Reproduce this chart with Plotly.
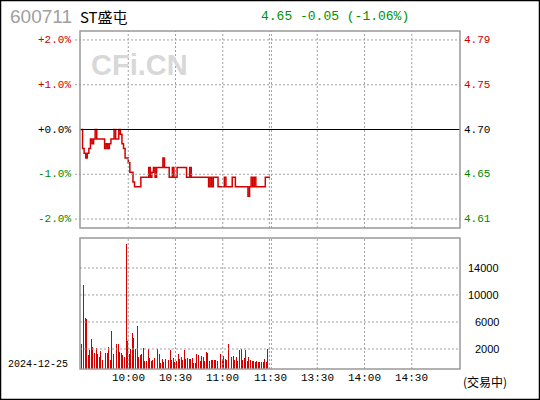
import plotly.graph_objects as go

# ---------------- data ----------------
stock_code = "600711"
stock_name = "ST盛屯"
quote_text = "4.65 -0.05 (-1.06%)"
trade_date = "2024-12-25"
status_text = "(交易中)"

prev_close = 4.70

# one price per minute from 9:30 (index 0) to 11:30 (index 120)
prices = [
    4.70, 4.68, 4.675, 4.67, 4.675, 4.68, 4.69, 4.685, 4.69, 4.70,
    4.69, 4.69, 4.69, 4.69, 4.69, 4.68, 4.685, 4.68, 4.685, 4.69,
    4.69, 4.70, 4.69, 4.69, 4.70, 4.695, 4.685, 4.68, 4.67, 4.67,
    4.665, 4.655, 4.655, 4.645, 4.64, 4.64, 4.64, 4.64, 4.65, 4.65,
    4.65, 4.65, 4.65, 4.66, 4.65, 4.655, 4.66, 4.65, 4.66, 4.66,
    4.66, 4.66, 4.67, 4.66, 4.66, 4.66, 4.65, 4.65, 4.66, 4.65,
    4.65, 4.66, 4.66, 4.66, 4.66, 4.66, 4.66, 4.65, 4.65, 4.66,
    4.65, 4.65, 4.65, 4.65, 4.65, 4.65, 4.65, 4.65, 4.65, 4.65,
    4.65, 4.64, 4.65, 4.64, 4.65, 4.65, 4.65, 4.64, 4.64, 4.64,
    4.64, 4.65, 4.64, 4.64, 4.64, 4.64, 4.65, 4.65, 4.64, 4.64,
    4.64, 4.64, 4.64, 4.64, 4.64, 4.64, 4.63, 4.64, 4.65, 4.64,
    4.65, 4.64, 4.64, 4.64, 4.64, 4.64, 4.64, 4.65, 4.65, 4.65,
    4.65,
]
price_minutes = list(range(len(prices)))

# one volume bar per minute (minute 1 .. 119)
volumes = [
    3750, 12490, 7600, 7450, 2120, 2860, 4490, 3260, 2370, 3110,
    2270, 1820, 2710, 1380, 1380, 2370, 2370, 3310, 1380, 5670,
    2270, 1970, 3750, 3750, 2470, 2370, 2120, 1820, 18560, 4190,
    2270, 2960, 5400, 4600, 2960, 6410, 1720, 2010, 2270, 3110,
    1130, 1230, 2960, 1680, 1130, 1380, 1630, 1380, 2960, 2270,
    890, 1530, 1030, 1480, 1380, 1380, 2860, 1380, 1630, 980,
    1130, 2270, 1480, 1780, 1380, 2860, 1530, 1630, 1480, 1480,
    1630, 890, 890, 2270, 2120, 1130, 1930, 1780, 1130, 2520,
    2370, 1230, 1380, 1380, 1380, 1330, 1130, 1480, 2270, 1480,
    1930, 1480, 1330, 3750, 2860, 1780, 1930, 1330, 1780, 1230,
    2860, 2960, 1380, 1630, 2860, 1130, 1780, 1380, 1230, 1130,
    1030, 1130, 980, 980, 980, 980, 1480, 980, 2960,
]
vol_minutes = [k + 0.6 for k in range(len(volumes))]

pct_levels = [2, 1, 0, -1, -2]
pct_labels = ["+2.0%", "+1.0%", "+0.0%", "-1.0%", "-2.0%"]
price_labels = ["4.79", "4.75", "4.70", "4.65", "4.61"]
level_colors = ["#cc0000", "#cc0000", "#000000", "#008800", "#008800"]

time_ticks = [30, 60, 90, 120, 150, 180, 210]
time_labels = ["10:00", "10:30", "11:00", "11:30", "13:30", "14:00", "14:30"]
grid_minutes = [30, 60, 90, 119.6, 120.9, 150, 180, 210]

vol_grid = [2963, 6963, 10963, 14963]
vol_labels = ["2000", "6000", "10000", "14000"]

# ---------------- figure ----------------
RED = "#d40000"
GRID = "#a0a0a0"
BORDER = "#999999"
MONO = "Liberation Mono, DejaVu Sans Mono, monospace"

fig = go.Figure()
fig.add_trace(go.Scatter(
    x=price_minutes, y=prices, mode="lines",
    line=dict(color=RED, width=1.5, shape="hv"),
    xaxis="x", yaxis="y", hoverinfo="skip", showlegend=False))
fig.add_trace(go.Bar(
    x=vol_minutes, y=volumes, width=0.6,
    marker=dict(color=RED, line=dict(width=0)),
    xaxis="x2", yaxis="y2", hoverinfo="skip", showlegend=False))

W, H = 540, 400
ML, MR, MT, MB = 80, 80, 31, 31
PW, PH = W - ML - MR, H - MT - MB
up_lo = (H - MB - 228) / PH
low_hi = (H - MB - 238) / PH

pmin = prev_close * (1 - 0.022)
pmax = prev_close * (1 + 0.022)
xr = [-0.63, 240.6]

fig.update_layout(
    width=W, height=H,
    margin=dict(l=ML, r=MR, t=MT, b=MB),
    paper_bgcolor="white", plot_bgcolor="white",
    showlegend=False, bargap=0,
    xaxis=dict(domain=[0, 1], range=xr, anchor="y", showgrid=False,
               zeroline=False, showticklabels=False, ticks=""),
    yaxis=dict(domain=[up_lo, 1], range=[pmin, pmax], showgrid=False,
               zeroline=False, showticklabels=False, ticks=""),
    xaxis2=dict(domain=[0, 1], range=xr, anchor="y2", showgrid=False,
                zeroline=False, showticklabels=False, ticks=""),
    yaxis2=dict(domain=[0, low_hi], range=[0, 19400], anchor="x2",
                showgrid=False, zeroline=False, showticklabels=False, ticks=""),
)

shapes = []
dot = "2px,2px"
# horizontal grid in price panel
for p in pct_levels:
    yv = prev_close * (1 + p / 100)
    if p == 0:
        shapes.append(dict(type="line", xref="paper", yref="y", x0=0, x1=1,
                           y0=yv, y1=yv, line=dict(color="black", width=1.2)))
    else:
        shapes.append(dict(type="line", xref="paper", yref="y", x0=-5 / PW, x1=1,
                           y0=yv, y1=yv, line=dict(color=GRID, width=1, dash=dot)))
# vertical grid in both panels
for gm in grid_minutes:
    shapes.append(dict(type="line", xref="x", yref="y domain", x0=gm, x1=gm,
                       y0=0, y1=1, line=dict(color=GRID, width=1, dash=dot)))
    shapes.append(dict(type="line", xref="x2", yref="y2 domain", x0=gm, x1=gm,
                       y0=0, y1=1, line=dict(color=GRID, width=1, dash=dot)))
# horizontal grid in volume panel
for v in vol_grid:
    shapes.append(dict(type="line", xref="paper", yref="y2", x0=0, x1=1,
                       y0=v, y1=v, line=dict(color=GRID, width=1, dash=dot)))
# panel borders
shapes.append(dict(type="rect", xref="x domain", yref="y domain", x0=0, x1=1,
                   y0=0, y1=1, line=dict(color=BORDER, width=1.5)))
shapes.append(dict(type="rect", xref="x2 domain", yref="y2 domain", x0=0, x1=1,
                   y0=0, y1=1, line=dict(color=BORDER, width=1.5)))
# outer black frame
shapes.append(dict(type="rect", xref="paper", yref="paper",
                   x0=(0 - ML) / PW, x1=(W - ML) / PW,
                   y0=(0 - MB) / PH, y1=(H - MB) / PH,
                   line=dict(color="black", width=2.5)))
fig.update_layout(shapes=shapes)

ann = []
def px_x(px):
    return (px - ML) / PW
def px_y(py):
    return (H - MB - py) / PH

# header
ann.append(dict(text=stock_code, xref="paper", yref="paper", x=px_x(8), y=px_y(16),
                xanchor="left", yanchor="middle", showarrow=False,
                font=dict(family="Liberation Sans, Arial", size=19, color="#a0a0a0")))
ann.append(dict(text=stock_name, xref="paper", yref="paper", x=px_x(78), y=px_y(16),
                xanchor="left", yanchor="middle", showarrow=False,
                font=dict(family="Noto Sans CJK SC", size=15, color="black")))
ann.append(dict(text=quote_text, xref="paper", yref="paper", x=px_x(259), y=px_y(16),
                xanchor="left", yanchor="middle", showarrow=False,
                font=dict(family=MONO, size=13, color="#009000")))
# watermark
ann.append(dict(text="<b>CFi.CN</b>", xref="paper", yref="paper", x=px_x(139), y=px_y(65),
                xanchor="center", yanchor="middle", showarrow=False,
                font=dict(family="Liberation Sans, Arial", size=29, color="#d8d8d8")))
# price axis labels
for p, lt, rt, c in zip(pct_levels, pct_labels, price_labels, level_colors):
    yv = prev_close * (1 + p / 100)
    ann.append(dict(text=lt, xref="paper", yref="y", x=px_x(73), y=yv,
                    xanchor="right", yanchor="middle", showarrow=False,
                    font=dict(family=MONO, size=11, color=c)))
    ann.append(dict(text=rt, xref="paper", yref="y", x=px_x(462), y=yv,
                    xanchor="left", yanchor="middle", showarrow=False,
                    font=dict(family=MONO, size=11, color=c)))
# volume axis labels
for v, t in zip(vol_grid, vol_labels):
    ann.append(dict(text=t, xref="paper", yref="y2", x=px_x(501), y=v,
                    xanchor="right", yanchor="middle", showarrow=False,
                    font=dict(family="Liberation Sans, Arial", size=11, color="black")))
# time labels
for tm, tl in zip(time_ticks, time_labels):
    ann.append(dict(text=tl, xref="x2", yref="paper", x=tm, y=px_y(378),
                    xanchor="center", yanchor="middle", showarrow=False,
                    font=dict(family=MONO, size=11, color="black")))
ann.append(dict(text=trade_date, xref="paper", yref="paper", x=px_x(6), y=px_y(364),
                xanchor="left", yanchor="middle", showarrow=False,
                font=dict(family=MONO, size=10, color="black")))
ann.append(dict(text=status_text, xref="paper", yref="paper", x=px_x(461), y=px_y(381),
                xanchor="left", yanchor="middle", showarrow=False,
                font=dict(family="Noto Sans CJK SC", size=12, color="black")))
fig.update_layout(annotations=ann)

fig.write_html(
    "out.html",
    config={"displayModeBar": False, "staticPlot": True},
    post_script="document.body.style.margin='0';document.body.style.padding='0';",
)
